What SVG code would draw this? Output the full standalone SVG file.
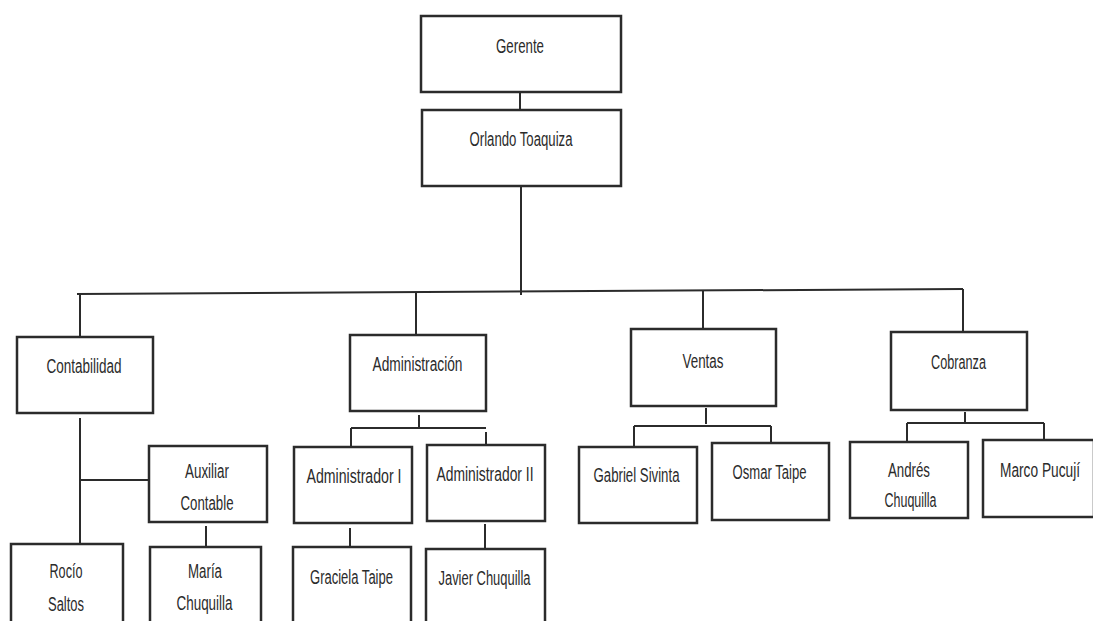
<svg xmlns="http://www.w3.org/2000/svg" width="1093" height="621" viewBox="0 0 1093 621">
<style>
.box{fill:#fff;stroke:#2b2b2b;stroke-width:2.5}
.ln{fill:none;stroke:#2b2b2b;stroke-width:2}
text{font-family:"Liberation Sans",Arial,sans-serif;font-size:20px;fill:#2b2b2b;text-anchor:middle}
</style>
<rect width="1093" height="621" fill="#fff"/>
<g id="connectors">
<path class="ln" d="M520,92 V110"/>
<path class="ln" d="M521,186 V295"/>
<path class="ln" d="M77,294 L963,289"/>
<path class="ln" d="M80,294 V337"/>
<path class="ln" d="M416,293 V335"/>
<path class="ln" d="M703,291 V329"/>
<path class="ln" d="M963,289 V332"/>
<path class="ln" d="M80,418 V544 M80,480 H149"/>
<path class="ln" d="M206,526 V547"/>
<path class="ln" d="M419,415 V427 M351,428 H486 M351,428 V446 M486,432 V445"/>
<path class="ln" d="M350,528 V547"/>
<path class="ln" d="M485,524 V549"/>
<path class="ln" d="M706,408 V424 M634,426 H771 M634,426 V447 M771,426 V443"/>
<path class="ln" d="M965,412 V423 M907,423 H1044 M907,423 V442 M1044,423 V440"/>
</g>
<g id="gerente"><rect class="box" x="421" y="16" width="200" height="76"/><text x="520" y="52.5" textLength="48" lengthAdjust="spacingAndGlyphs">Gerente</text></g>
<g id="orlando"><rect class="box" x="422" y="110" width="199" height="76"/><text x="521" y="146" textLength="103" lengthAdjust="spacingAndGlyphs">Orlando Toaquiza</text></g>
<g id="contabilidad"><rect class="box" x="17" y="337" width="136" height="76"/><text x="84" y="373" textLength="75" lengthAdjust="spacingAndGlyphs">Contabilidad</text></g>
<g id="auxiliar"><rect class="box" x="149" y="446" width="118" height="76"/><text x="207" y="478" textLength="44" lengthAdjust="spacingAndGlyphs">Auxiliar</text><text x="207" y="510" textLength="53" lengthAdjust="spacingAndGlyphs">Contable</text></g>
<g id="rocio"><rect class="box" x="11" y="544" width="112" height="90"/><text x="66" y="578" textLength="33" lengthAdjust="spacingAndGlyphs">Rocío</text><text x="66" y="610.5" textLength="36" lengthAdjust="spacingAndGlyphs">Saltos</text></g>
<g id="maria"><rect class="box" x="150" y="547" width="111" height="90"/><text x="205" y="578" textLength="34" lengthAdjust="spacingAndGlyphs">María</text><text x="204.5" y="610" textLength="56" lengthAdjust="spacingAndGlyphs">Chuquilla</text></g>
<g id="administracion"><rect class="box" x="350" y="335" width="136" height="76"/><text x="417.5" y="371" textLength="90" lengthAdjust="spacingAndGlyphs">Administración</text></g>
<g id="administrador1"><rect class="box" x="294" y="447" width="118" height="76"/><text x="354" y="483" textLength="95" lengthAdjust="spacingAndGlyphs">Administrador I</text></g>
<g id="administrador2"><rect class="box" x="427" y="445" width="118" height="76"/><text x="485" y="481" textLength="97" lengthAdjust="spacingAndGlyphs">Administrador II</text></g>
<g id="graciela"><rect class="box" x="293" y="547" width="118" height="90"/><text x="351.5" y="584" textLength="83" lengthAdjust="spacingAndGlyphs">Graciela Taipe</text></g>
<g id="javier"><rect class="box" x="426" y="549" width="119" height="90"/><text x="484.5" y="585" textLength="92" lengthAdjust="spacingAndGlyphs">Javier Chuquilla</text></g>
<g id="ventas"><rect class="box" x="631" y="329" width="145" height="77"/><text x="703" y="367.5" textLength="41" lengthAdjust="spacingAndGlyphs">Ventas</text></g>
<g id="gabriel"><rect class="box" x="579" y="447" width="118" height="76"/><text x="636.5" y="482" textLength="86" lengthAdjust="spacingAndGlyphs">Gabriel Sivinta</text></g>
<g id="osmar"><rect class="box" x="712" y="443" width="117" height="77"/><text x="769.5" y="479" textLength="74" lengthAdjust="spacingAndGlyphs">Osmar Taipe</text></g>
<g id="cobranza"><rect class="box" x="891" y="332" width="136" height="78"/><text x="958.5" y="369" textLength="55" lengthAdjust="spacingAndGlyphs">Cobranza</text></g>
<g id="andres"><rect class="box" x="850" y="442" width="118" height="76"/><text x="909" y="476.5" textLength="42" lengthAdjust="spacingAndGlyphs">Andrés</text><text x="910.5" y="506.5" textLength="52" lengthAdjust="spacingAndGlyphs">Chuquilla</text></g>
<g id="marco"><rect class="box" x="983" y="440" width="111" height="77"/><text x="1040" y="477" textLength="80" lengthAdjust="spacingAndGlyphs">Marco Pucují</text></g>
</svg>
